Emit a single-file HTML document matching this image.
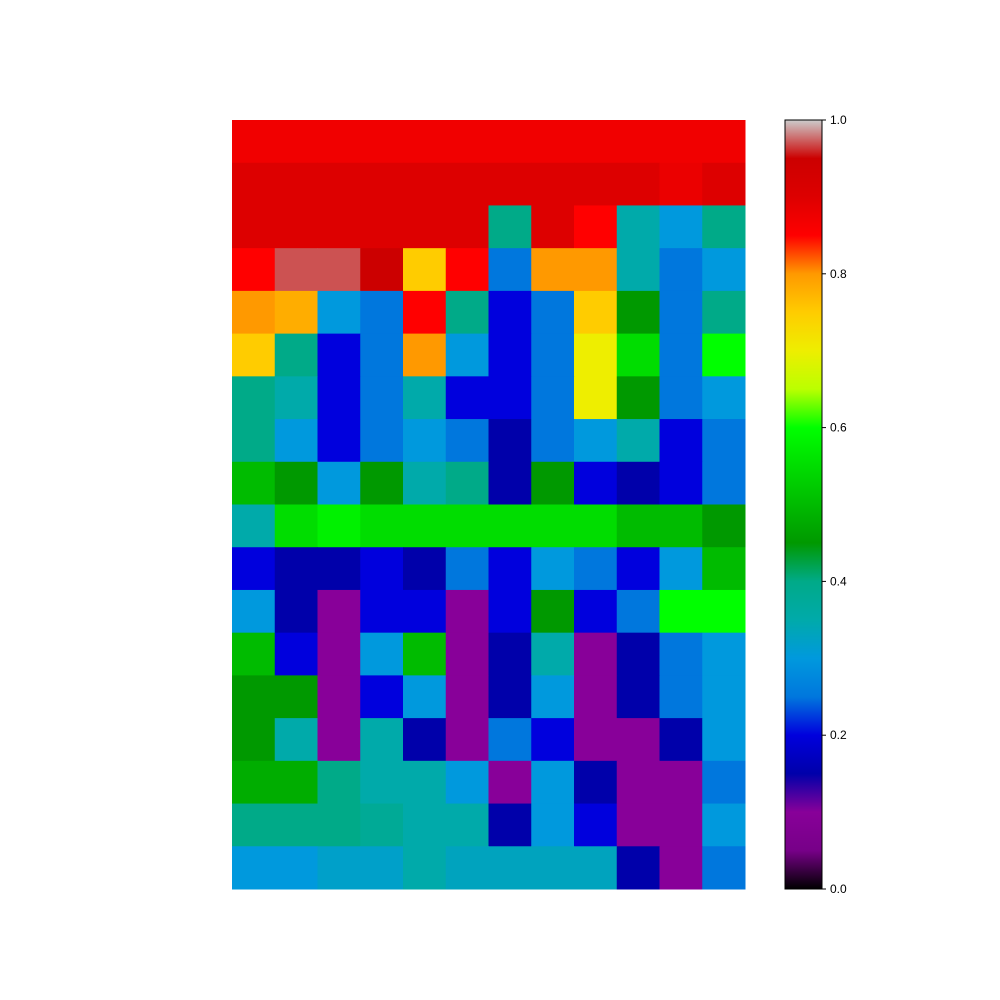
<!DOCTYPE html>
<html><head><meta charset="utf-8"><style>
html,body{margin:0;padding:0;background:#fff;}
svg{display:block;font-family:"Liberation Sans",sans-serif;}
</style></head><body>
<svg id="fig" width="1000" height="1000" viewBox="0 0 1000 1000" xmlns="http://www.w3.org/2000/svg">
<g id="img"></g>
<defs><linearGradient id="cbg" x1="0" y1="1" x2="0" y2="0"></linearGradient></defs>
<rect x="785" y="120" width="37" height="769" fill="url(#cbg)" stroke="#000" stroke-width="1"/>
<g id="cbticks"></g>
</svg>
<script>
const gridValues = [
[0.87,0.87,0.87,0.87,0.87,0.87,0.87,0.87,0.87,0.87,0.87,0.87],
[0.9,0.9,0.9,0.9,0.9,0.9,0.9,0.9,0.9,0.9,0.88,0.9],
[0.9,0.9,0.9,0.9,0.9,0.9,0.4,0.9,0.85,0.35,0.3,0.4],
[0.85,0.97,0.97,0.95,0.75,0.85,0.25,0.8,0.8,0.35,0.25,0.3],
[0.8,0.78,0.3,0.25,0.85,0.4,0.2,0.25,0.75,0.45,0.25,0.4],
[0.75,0.4,0.2,0.25,0.8,0.3,0.2,0.25,0.7,0.55,0.25,0.6],
[0.4,0.35,0.2,0.25,0.35,0.2,0.2,0.25,0.7,0.45,0.25,0.3],
[0.4,0.3,0.2,0.25,0.3,0.25,0.15,0.25,0.3,0.35,0.2,0.25],
[0.5,0.45,0.3,0.45,0.35,0.4,0.15,0.45,0.2,0.15,0.2,0.25],
[0.35,0.55,0.58,0.55,0.55,0.55,0.55,0.55,0.55,0.5,0.5,0.45],
[0.2,0.15,0.15,0.2,0.15,0.25,0.2,0.3,0.25,0.2,0.3,0.5],
[0.3,0.15,0.1,0.2,0.2,0.1,0.2,0.45,0.2,0.25,0.6,0.6],
[0.5,0.2,0.1,0.3,0.5,0.1,0.15,0.35,0.1,0.15,0.25,0.3],
[0.45,0.45,0.1,0.2,0.3,0.1,0.15,0.3,0.1,0.15,0.25,0.3],
[0.45,0.35,0.1,0.35,0.15,0.1,0.25,0.2,0.1,0.1,0.15,0.3],
[0.48,0.48,0.4,0.35,0.35,0.3,0.1,0.3,0.15,0.1,0.1,0.25],
[0.4,0.4,0.4,0.38,0.35,0.35,0.15,0.3,0.2,0.1,0.1,0.3],
[0.3,0.3,0.32,0.32,0.35,0.33,0.33,0.33,0.33,0.15,0.1,0.25]
];
const tickValues = [0.0,0.2,0.4,0.6,0.8,1.0];
const tickLabels = ["0.0","0.2","0.4","0.6","0.8","1.0"];
const cmapStops = [[0,0,0],[0.4667,0,0.5333],[0.5333,0,0.6],[0,0,0.6667],[0,0,0.8667],[0,0.4667,0.8667],[0,0.6,0.8667],[0,0.6667,0.6667],[0,0.6667,0.5333],[0,0.6,0],[0,0.7333,0],[0,0.8667,0],[0,1,0],[0.7333,1,0],[0.9333,0.9333,0],[1,0.8,0],[1,0.6,0],[1,0,0],[0.8667,0,0],[0.8,0,0],[0.8,0.8,0.8]];
function cmap(v){v=Math.max(0,Math.min(1,v));const p=v*20,i=Math.min(19,Math.floor(p)),f=p-i;const a=cmapStops[i],b=cmapStops[i+1];
return 'rgb('+[0,1,2].map(k=>Math.round((a[k]+(b[k]-a[k])*f)*255)).join(',')+')';}
const NS="http://www.w3.org/2000/svg";
const X0=232,Y0=120,W=513,H=769;
const rows=gridValues.length,cols=gridValues[0].length;
const xs=c=>X0+c*W/cols, ys=r=>Y0+r*H/rows;
const g=document.getElementById('img');
gridValues.forEach((row,r)=>row.forEach((v,c)=>{
 const e=document.createElementNS(NS,'rect');
 
 
 e.setAttribute('x',xs(c));e.setAttribute('y',ys(r));
 e.setAttribute('width',W/cols+0.5);e.setAttribute('height',H/rows+0.5);
 e.setAttribute('fill',cmap(v));g.appendChild(e);}));
const grad=document.getElementById('cbg');
cmapStops.forEach((s,i)=>{const st=document.createElementNS(NS,'stop');
 st.setAttribute('offset',i/20);st.setAttribute('stop-color',cmap(i/20));grad.appendChild(st);});
const cy=v=>889-v*769;
const tg=document.getElementById('cbticks');
tickValues.forEach((v,i)=>{
 const l=document.createElementNS(NS,'line');
 
 
 l.setAttribute('x1',822);l.setAttribute('x2',826);l.setAttribute('y1',cy(v));l.setAttribute('y2',cy(v));
 l.setAttribute('stroke','#000');tg.appendChild(l);
 const t=document.createElementNS(NS,'text');
 
 
 t.setAttribute('x',830);t.setAttribute('y',cy(v)+4);t.setAttribute('font-size','12');
 t.textContent=tickLabels[i];tg.appendChild(t);});
</script>
</body></html>
